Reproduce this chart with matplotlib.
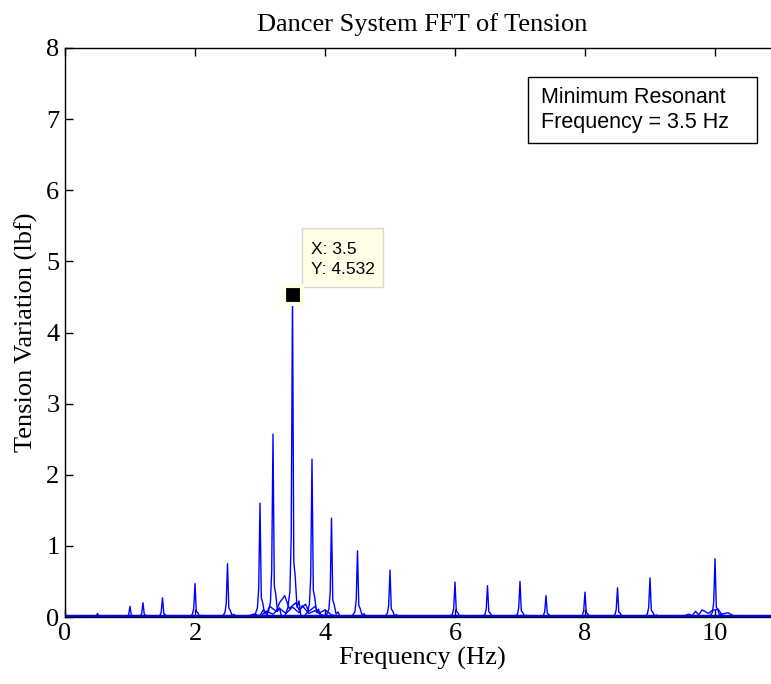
import matplotlib
matplotlib.use('Agg')
import matplotlib.pyplot as plt
from matplotlib.patches import Rectangle

# spike frequency (Hz) and peak tension variation (lbf), one trace per test
peak_freqs = [0.5, 1.0, 1.2, 1.5, 2.0, 2.5, 3.0, 3.2, 3.5, 3.8, 4.1, 4.5, 5.0,
              6.0, 6.5, 7.0, 7.4, 8.0, 8.5, 9.0, 10.0]
peak_amps = [0.05, 0.15, 0.2, 0.27, 0.47, 0.75, 1.6, 2.57, 4.532, 2.22, 1.39,
             0.93, 0.66, 0.49, 0.44, 0.5, 0.3, 0.35, 0.41, 0.55, 0.82]

# shape of one spike: offset (Hz) and fraction of peak
spike_dx = [-0.12, -0.07, -0.04, -0.02, 0.0, 0.02, 0.04, 0.07, 0.10, 0.13]
spike_rel = [0.0, 0.03, 0.08, 0.25, 1.0, 0.17, 0.13, 0.03, 0.05, 0.0]

# low level ripple seen near the main resonance and near 10 Hz
ripple1_x = [2.8, 2.9, 3.0, 3.05, 3.1, 3.15, 3.25, 3.3, 3.38, 3.45, 3.55, 3.6,
             3.7, 3.75, 3.85, 3.9, 4.0, 4.1, 4.2]
ripple1_y = [0.01, 0.04, 0.02, 0.1, 0.05, 0.15, 0.08, 0.2, 0.3, 0.12, 0.2,
             0.1, 0.18, 0.08, 0.15, 0.05, 0.1, 0.03, 0.01]
ripple2_x = [3.0, 3.1, 3.2, 3.3, 3.4, 3.5, 3.6, 3.65, 3.75, 3.85, 3.95, 4.05]
ripple2_y = [0.01, 0.08, 0.04, 0.12, 0.05, 0.14, 0.06, 0.16, 0.05, 0.09, 0.03, 0.01]
ripple3_x = [9.5, 9.6, 9.65, 9.7, 9.75, 9.8, 9.9, 9.95, 10.05, 10.1, 10.2, 10.3]
ripple3_y = [0.01, 0.04, 0.02, 0.08, 0.03, 0.1, 0.05, 0.09, 0.11, 0.04, 0.06, 0.01]

tip_x, tip_y = 3.5, 4.532
note_lines = ['Minimum Resonant', 'Frequency = 3.5 Hz']

line_col = '#0000FF'
serif = ['Liberation Serif', 'DejaVu Serif']
sans = ['Liberation Sans', 'DejaVu Sans']

fig = plt.figure(figsize=(7.71, 6.84), dpi=100)
ax = fig.add_axes([65 / 771, 67 / 684, 715 / 771, 569 / 684])

for f, a in zip(peak_freqs, peak_amps):
    xs = [0.0] + [f + d for d in spike_dx] + [11.0]
    ys = [0.01] + [max(a * r, 0.01) for r in spike_rel] + [0.01]
    ax.plot(xs, ys, color=line_col, lw=1.0)

for rx, ry in [(ripple1_x, ripple1_y), (ripple2_x, ripple2_y), (ripple3_x, ripple3_y)]:
    ax.plot(rx, ry, color=line_col, lw=1.0)

# thick baseline from many overlapping traces
ax.plot([0.0, 11.0], [0.01, 0.01], color=line_col, lw=2.5)

ax.set_xlim(0, 11)
ax.set_ylim(0, 8)
ax.set_xticks([0, 2, 4, 6, 8, 10])
ax.set_yticks(range(9))
ax.tick_params(direction='in', top=True, right=True, length=6, width=1,
               labelsize=19, pad=4)
for lbl in ax.get_xticklabels() + ax.get_yticklabels():
    lbl.set_family(serif)
for s in ax.spines.values():
    s.set_linewidth(1.0)

ax.set_title('Dancer System FFT of Tension', family=serif, fontsize=19, pad=12)
ax.set_xlabel('Frequency (Hz)', family=serif, fontsize=19, labelpad=2)
ax.set_ylabel('Tension Variation (lbf)', family=serif, fontsize=19, labelpad=6)

# data tip
ax.plot([tip_x], [tip_y], marker='s', ms=13, color='black', mec='#FFFFE1',
        mew=3, zorder=5)
ax.add_patch(Rectangle((3.64, 4.645), 1.25, 0.83, fc='#FFFFE8', ec='#D8D8D0',
                       lw=1, zorder=4))
ax.text(3.78, 5.1, 'X: %g' % tip_x, family=sans, fontsize=12.5,
        va='baseline', zorder=6)
ax.text(3.78, 4.82, 'Y: %.3f' % tip_y, family=sans, fontsize=12.5,
        va='baseline', zorder=6)

# annotation box
ax.add_patch(Rectangle((7.12, 6.664), 3.53, 0.93, fc='white', ec='black',
                       lw=1, zorder=4))
ax.text(7.32, 7.227, note_lines[0], family=sans, fontsize=15.5,
        va='baseline', zorder=6)
ax.text(7.32, 6.875, note_lines[1], family=sans, fontsize=15.5,
        va='baseline', zorder=6)

fig.savefig('out.png', dpi=100)
